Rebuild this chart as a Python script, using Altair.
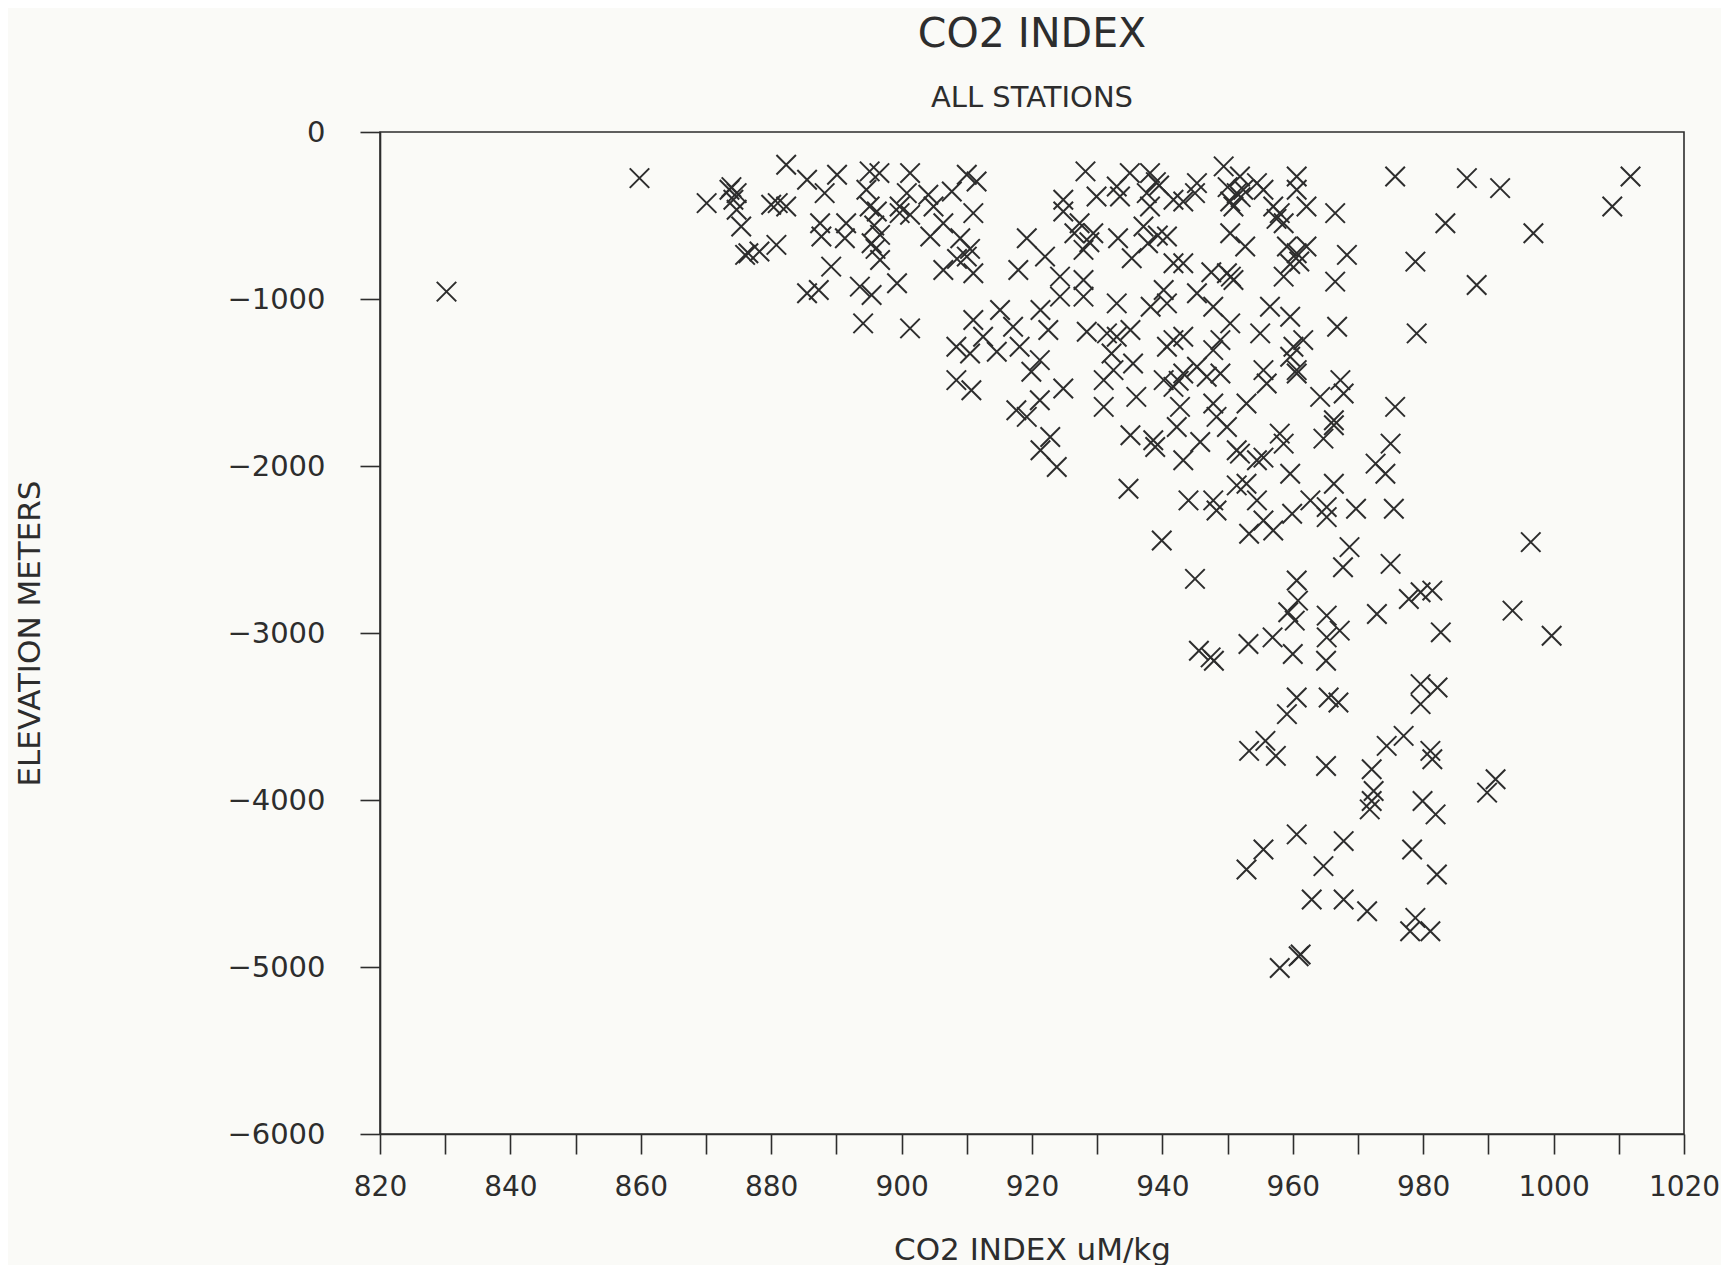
import altair as alt
import pandas as pd

# CO2 index (uM/kg) and elevation (m) pairs, grouped by region
left_pts = [
    (859.8, -276), (830.2, -956), (870.1, -426), (873.6, -346), (874.7, -366), (874.2, -406),
    (874.7, -466), (875.4, -566), (873.9, -330), (880.0, -436), (882.3, -446), (881.0, -426),
    (882.3, -196), (876.5, -726), (878.2, -716), (880.8, -676), (876.0, -736),
]

upper_mid_pts = [
    (885.5, -286), (890.1, -256), (888.2, -366), (895.1, -236), (896.6, -246), (894.6, -346),
    (895.1, -446), (896.2, -476), (901.3, -246), (900.8, -366), (899.7, -446), (904.1, -376),
    (904.9, -446), (907.7, -356), (910.0, -256), (911.5, -296), (887.5, -546), (887.7, -626),
    (891.5, -546), (891.3, -636), (895.4, -666), (896.7, -766), (896.7, -616), (899.7, -486),
    (901.3, -496), (904.4, -626), (906.4, -546), (909.0, -636), (910.0, -746), (911.0, -846),
    (911.0, -486), (906.4, -826), (889.2, -806), (885.5, -966), (887.3, -946), (893.6, -926),
    (895.4, -976), (899.3, -906), (894.1, -1146), (901.3, -1176), (919.2, -636), (922.0, -746),
    (917.9, -826), (928.2, -236), (924.8, -406), (924.8, -476), (929.9, -386), (927.3, -546),
    (929.4, -606), (927.9, -706), (933.2, -636), (935.3, -756), (935.0, -246), (938.1, -246),
    (933.0, -326), (933.5, -386), (937.6, -366), (938.1, -446), (937.1, -566), (937.8, -666),
    (924.3, -866), (924.3, -986), (927.9, -886), (927.9, -986), (921.3, -1066), (922.5, -1186),
    (915.1, -1066), (917.1, -1166), (911.0, -1126), (912.5, -1226), (914.6, -1316), (908.4, -1286),
    (910.5, -1326), (918.1, -1286), (921.2, -1366), (919.9, -1436), (908.4, -1486), (910.7, -1546),
    (924.8, -1536), (917.6, -1666), (919.2, -1706), (921.2, -1606), (928.4, -1196), (931.5, -1206),
    (933.0, -1226), (932.2, -1326), (935.1, -1186), (938.2, -1046), (933.0, -1026), (931.0, -1486),
    (932.5, -1426), (935.5, -1386), (931.0, -1646), (936.0, -1586), (939.5, -320), (895.8, -560),
    (896.0, -700), (910.5, -700), (908.5, -760), (926.5, -606), (928.8, -660), (939.0, -300),
    (939.3, -620),
]

upper_right_pts = [
    (941.7, -406), (943.2, -416), (945.3, -306), (945.0, -366), (949.4, -206), (951.9, -266),
    (950.4, -416), (951.4, -366), (952.4, -346), (950.9, -446), (954.5, -306), (955.5, -346),
    (960.6, -266), (960.6, -346), (957.0, -446), (958.0, -486), (958.6, -546), (962.1, -446),
    (966.5, -486), (975.7, -266), (983.4, -546), (940.7, -626), (941.7, -786), (943.2, -786),
    (950.4, -606), (952.7, -686), (959.1, -686), (960.6, -726), (962.1, -686), (959.6, -790),
    (961.0, -775), (958.6, -866), (968.3, -736), (966.5, -896), (978.8, -776), (949.9, -846),
    (950.9, -886), (940.2, -946), (940.7, -1026), (945.3, -966), (947.8, -1046), (956.5, -1046),
    (959.6, -1106), (941.7, -1246), (940.7, -1286), (943.2, -1226), (950.4, -1146), (948.9, -1246),
    (947.8, -1306), (955.0, -1206), (961.6, -1246), (960.1, -1286), (959.6, -1346), (960.6, -1426),
    (966.8, -1166), (979.0, -1206), (940.2, -1486), (941.7, -1526), (943.2, -1446), (945.3, -1406),
    (946.8, -1466), (948.9, -1446), (942.7, -1646), (947.8, -1626), (948.3, -1706), (952.9, -1626),
    (955.5, -1426), (956.0, -1506), (960.6, -1446), (964.2, -1586), (967.3, -1486), (967.8, -1566),
    (966.3, -1726), (975.7, -1646), (950.0, -330), (952.0, -390), (957.5, -520), (942.5, -1490),
    (950.5, -866), (947.5, -840),
]

far_right_pts = [
    (986.7, -276), (991.8, -336), (996.9, -606), (988.2, -916), (1009.0, -446), (1011.8, -266),
]

middle_pts = [
    (922.8, -1826), (921.3, -1906), (923.8, -2006), (935.1, -1816), (938.6, -1846), (938.9, -1886),
    (942.2, -1766), (945.8, -1856), (943.2, -1966), (949.9, -1766), (951.4, -1906), (951.9, -1926),
    (934.8, -2136), (944.0, -2206), (947.8, -2206), (948.3, -2266), (951.4, -2116), (952.9, -2106),
    (953.3, -2406), (939.9, -2446), (945.0, -2676), (945.6, -3106), (947.4, -3146), (947.9, -3166),
    (953.2, -3066),
    (958.0, -1806), (958.6, -1866), (964.7, -1836), (966.3, -1756), (975.0, -1866), (972.7, -1986),
    (974.2, -2046), (954.5, -1966), (955.5, -1950), (959.6, -2046), (966.3, -2106), (954.5, -2206),
    (955.5, -2326), (957.0, -2386), (959.9, -2286), (962.7, -2206), (965.2, -2246), (965.2, -2306),
    (969.7, -2256), (975.5, -2256), (996.5, -2456), (968.7, -2486), (967.7, -2606), (975.0, -2586),
    (960.6, -2686), (960.8, -2806), (959.3, -2876), (960.3, -2926), (965.2, -2896), (967.2, -2986),
    (965.2, -3026), (972.9, -2886), (977.8, -2796), (979.6, -2756), (981.4, -2746), (993.7, -2866),
    (982.7, -2996), (999.7, -3016), (956.9, -3026), (960.0, -3126), (965.1, -3166), (979.6, -3306),
    (982.2, -3326), (979.6, -3426), (960.6, -3386), (965.5, -3386), (967.0, -3416), (959.1, -3486),
]

deep_pts = [
    (953.3, -3706), (955.8, -3646), (957.4, -3736), (965.1, -3796), (972.1, -3816), (974.4, -3676),
    (977.0, -3616), (981.1, -3706), (981.4, -3756), (991.1, -3876), (989.8, -3956), (972.4, -3946),
    (972.1, -4006), (971.8, -4056), (979.9, -4006), (981.9, -4086), (960.6, -4206), (967.8, -4246),
    (955.5, -4296), (952.9, -4416), (964.7, -4396), (978.3, -4296), (982.1, -4446), (962.9, -4596),
    (967.8, -4596), (971.4, -4666), (978.8, -4706), (978.0, -4786), (981.1, -4786), (960.9, -4936),
    (961.2, -4925), (958.0, -5006),
]

x_ticks = list(range(820, 1021, 10))
y_ticks = [-6000, -5000, -4000, -3000, -2000, -1000, 0]

all_pts = left_pts + upper_mid_pts + upper_right_pts + far_right_pts + middle_pts + deep_pts
df = pd.DataFrame(all_pts, columns=["co2", "elev"])

INK = "#2d2d2d"
FONT = "DejaVu Sans"
W, H = 1304, 1002

chart = (
    alt.Chart(df)
    .mark_point(
        shape="M-1,-1L1,1M-1,1L1,-1",
        filled=False,
        size=380,
        strokeWidth=2,
        color=INK,
        opacity=1,
    )
    .encode(
        x=alt.X(
            "co2:Q",
            scale=alt.Scale(domain=[820, 1020], nice=False, zero=False),
            axis=alt.Axis(
                values=x_ticks,
                labelExpr="datum.value % 20 == 0 ? datum.label : ''",
                format="d",
                title="CO2 INDEX uM/kg",
                titleFontSize=31,
                titleFont=FONT,
                titleFontWeight="normal",
                titleColor=INK,
                titleX=W / 2,
                titleY=116,
                titleBaseline="middle",
                titleAlign="center",
                tickSize=20,
                tickWidth=1.6,
                tickColor=INK,
                domainColor=INK,
                domainWidth=1.6,
                labelFontSize=28,
                labelFont=FONT,
                labelColor=INK,
                labelPadding=19,
                labelFlush=False,
                labelOverlap=False,
                grid=False,
            ),
        ),
        y=alt.Y(
            "elev:Q",
            scale=alt.Scale(domain=[-6000, 0], nice=False, zero=False),
            axis=alt.Axis(
                values=y_ticks,
                format="d",
                title="ELEVATION METERS",
                titleFontSize=31,
                titleFont=FONT,
                titleFontWeight="normal",
                titleColor=INK,
                titleX=-350,
                titleY=H / 2,
                titleAngle=270,
                titleBaseline="middle",
                titleAlign="center",
                tickSize=20,
                tickWidth=1.6,
                tickColor=INK,
                domainColor=INK,
                domainWidth=1.6,
                labelFontSize=29,
                labelFont=FONT,
                labelColor=INK,
                labelPadding=35,
                labelFlush=False,
                labelOverlap=False,
                grid=False,
            ),
        ),
    )
    .properties(
        width=W,
        height=H,
        autosize="none",
        padding={"left": 372, "top": 124, "right": 37, "bottom": 131},
        background="#fafaf7",
        title=alt.TitleParams(
            text="CO2 INDEX",
            subtitle="ALL STATIONS",
            anchor="middle",
            frame="group",
            font=FONT,
            fontSize=41,
            fontWeight="normal",
            color=INK,
            subtitleFont=FONT,
            subtitleFontSize=29,
            subtitleColor=INK,
            subtitlePadding=28,
            offset=4,
        ),
    )
    .configure_view(stroke=INK, strokeWidth=1.6)
)

chart.save("out.html", embed_options={"renderer": "svg", "actions": False})
